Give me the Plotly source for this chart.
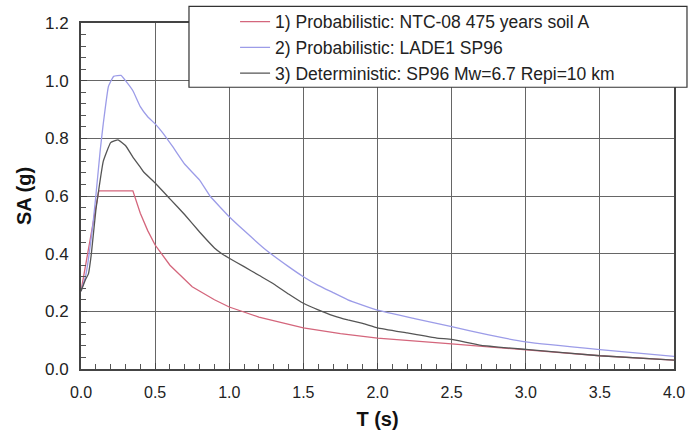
import plotly.graph_objects as go

# Series 1: Probabilistic NTC-08 475 years soil A
t_ntc = [0.0, 0.12, 0.35, 0.40, 0.45, 0.50, 0.60, 0.75, 0.90, 1.00, 1.20, 1.50, 1.75, 2.00, 2.50, 3.00, 3.50, 4.00]
sa_ntc = [0.27, 0.618, 0.618, 0.54, 0.48, 0.43, 0.36, 0.285, 0.24, 0.215, 0.18, 0.143, 0.123, 0.107, 0.087, 0.066, 0.046, 0.031]

# Series 2: Probabilistic LADE1 SP96
t_lade = [0.0, 0.03, 0.05, 0.08, 0.10, 0.13, 0.15, 0.185, 0.22, 0.27, 0.30, 0.35, 0.40, 0.45, 0.50, 0.55, 0.62, 0.70,
          0.80, 0.87, 1.00, 1.10, 1.25, 1.40, 1.50, 1.60, 1.70, 1.80, 2.00, 2.25, 2.50, 2.75, 3.00, 3.50, 4.00]
sa_lade = [0.27, 0.32, 0.38, 0.50, 0.60, 0.76, 0.85, 0.98, 1.015, 1.018, 1.00, 0.965, 0.91, 0.875, 0.85, 0.82, 0.77, 0.71,
           0.655, 0.60, 0.528, 0.48, 0.412, 0.355, 0.32, 0.29, 0.265, 0.24, 0.204, 0.175, 0.147, 0.118, 0.094, 0.067, 0.044]

# Series 3: Deterministic SP96 Mw=6.7 Repi=10 km
t_det = [0.0, 0.03, 0.05, 0.07, 0.10, 0.15, 0.20, 0.25, 0.30, 0.35, 0.40, 0.42, 0.50, 0.60, 0.70, 0.80, 0.90, 0.95,
         1.00, 1.10, 1.20, 1.30, 1.40, 1.50, 1.60, 1.70, 1.80, 1.90, 2.00, 2.20, 2.40, 2.50, 2.70, 3.00, 3.50, 4.00]
sa_det = [0.27, 0.31, 0.33, 0.40, 0.55, 0.72, 0.785, 0.795, 0.775, 0.735, 0.70, 0.685, 0.645, 0.59, 0.535, 0.475, 0.42, 0.40,
          0.384, 0.355, 0.325, 0.295, 0.26, 0.228, 0.205, 0.185, 0.17, 0.158, 0.143, 0.125, 0.107, 0.103, 0.082, 0.068, 0.046, 0.031]

names = ["1) Probabilistic: NTC-08 475 years soil A",
         "2) Probabilistic: LADE1 SP96",
         "3) Deterministic: SP96 Mw=6.7 Repi=10 km"]
colors = ["#d4667c", "#9c9ce8", "#555555"]
shapes_line = ["linear", "spline", "spline"]

x_ticks = [0.0, 0.5, 1.0, 1.5, 2.0, 2.5, 3.0, 3.5, 4.0]
y_ticks = [0.0, 0.2, 0.4, 0.6, 0.8, 1.0, 1.2]

fig = go.Figure()
for t, sa, nm, c, sh in zip([t_ntc, t_lade, t_det], [sa_ntc, sa_lade, sa_det], names, colors, shapes_line):
    ln = dict(color=c, width=1.3, shape=sh)
    if sh == "spline":
        ln["smoothing"] = 0.3
    fig.add_trace(go.Scatter(x=t, y=sa, mode="lines", name=nm, line=ln))

font_family = "Liberation Sans, Arial, sans-serif"
fig.update_layout(
    width=688, height=435,
    margin=dict(l=81, r=14, t=23, b=66, autoexpand=False),
    paper_bgcolor="white", plot_bgcolor="white",
    font=dict(family=font_family, color="#222222"),
    showlegend=True,
    legend=dict(x=0.2598, y=1.0556, xanchor="left", yanchor="top",
                bgcolor="rgba(0,0,0,0)", borderwidth=0,
                font=dict(size=17.5, color="#222222"), itemwidth=30),
    shapes=[dict(type="rect", xref="paper", yref="paper",
                 x0=0.1821, x1=1.0219, y0=0.8143, y1=1.0482,
                 fillcolor="white", line=dict(color="#333333", width=1.2),
                 layer="above")],
)
fig.update_xaxes(
    range=[0, 4], tickvals=x_ticks, ticktext=[f"{v:.1f}" for v in x_ticks],
    showgrid=True, gridcolor="#666666", gridwidth=1,
    showline=True, linecolor="#444444", linewidth=2, mirror=True,
    ticks="inside", ticklen=6, tickcolor="#444444",
    minor=dict(dtick=0.1, ticks="inside", ticklen=5, tickcolor="#555555", showgrid=False),
    zeroline=False, tickfont=dict(size=16, color="#222222"), ticklabelstandoff=8,
    title=dict(text="<b>T (s)</b>", font=dict(size=20, color="#111111"), standoff=12),
    automargin=False,
)
fig.update_yaxes(
    range=[0, 1.2], tickvals=y_ticks, ticktext=[f"{v:.1f}" for v in y_ticks],
    showgrid=True, gridcolor="#666666", gridwidth=1,
    showline=True, linecolor="#444444", linewidth=2, mirror=True,
    ticks="inside", ticklen=6, tickcolor="#444444",
    minor=dict(dtick=0.04, ticks="inside", ticklen=5, tickcolor="#555555", showgrid=False),
    zeroline=False, tickfont=dict(size=17, color="#222222"), ticklabelstandoff=7,
    title=dict(text="<b>SA (g)</b>", font=dict(size=20, color="#111111"), standoff=8),
    automargin=False,
)

fig.write_html("out.html", config={"displayModeBar": False},
               post_script="document.body.style.margin='0';")
